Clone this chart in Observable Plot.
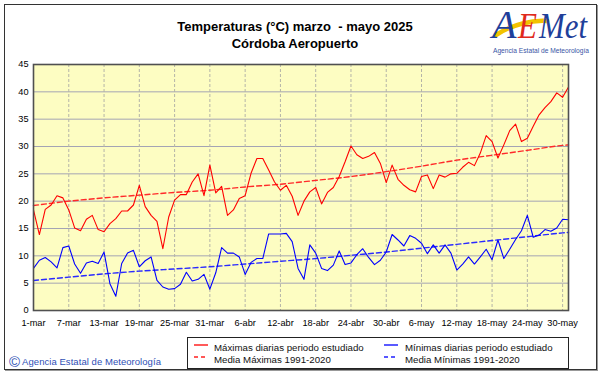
<!DOCTYPE html>
<html>
<head>
<meta charset="utf-8">
<script src="https://cdn.jsdelivr.net/npm/d3@7"></script>
<script src="https://cdn.jsdelivr.net/npm/@observablehq/plot@0.6"></script>
<style>
  html, body { margin: 0; padding: 0; background: #fff; }
  body { width: 601px; height: 374px; position: relative; overflow: hidden; font-family: "Liberation Sans", Arial, sans-serif; }
  #frame { position: absolute; left: 4px; top: 4px; width: 593px; height: 366px; box-sizing: border-box; border: 1px solid #333; box-shadow: 1px 1px 0 #999; }
  #chart { position: absolute; left: 0; top: 0; }
  .title { position: absolute; left: 95px; width: 400px; text-align: center; font-weight: bold; font-size: 13px; color: #000; white-space: pre; line-height: 17px; }
  #legend { position: absolute; left: 187px; top: 337px; width: 382px; height: 32px; box-sizing: border-box; border: 1px solid #222; background: #fff; font-size: 9.7px; color: #111; }
  .item { position: absolute; white-space: nowrap; line-height: 12px; }
  .sw { position: absolute; top: 5px; }
  #copy { position: absolute; left: 9px; top: 353px; font-size: 9.5px; color: #2f4fb5; white-space: nowrap; letter-spacing: 0.05px; }
  #copy span.c { font-size: 15px; vertical-align: -2px; margin-right: 2px; }
</style>
</head>
<body>
<div id="frame"></div>
<div id="chart"></div>
<div class="title" style="top:18px">Temperaturas (°C) marzo  - mayo 2025</div>
<div class="title" style="top:35px">Córdoba Aeropuerto</div>
<svg id="logo" width="112" height="58" style="position:absolute;left:487px;top:2px">
  <path d="M9,33 C26,22 46,18 60,19" stroke="#f2c200" stroke-width="4.5" fill="none" stroke-linecap="round"/>
  <text x="5" y="36" font-family="Liberation Serif" font-style="italic" font-size="40" fill="#1f3f9a">A</text>
  <text x="31" y="36" font-family="Liberation Serif" font-style="italic" font-size="36" fill="#e02a1c" textLength="19" lengthAdjust="spacingAndGlyphs">E</text>
  <text x="52" y="36" font-family="Liberation Serif" font-style="italic" font-size="36" fill="#1f3f9a" textLength="48" lengthAdjust="spacingAndGlyphs">Met</text>
  <text x="6" y="51" font-family="Liberation Sans, Arial" font-size="7" fill="#3a55a5" textLength="96" lengthAdjust="spacingAndGlyphs">Agencia Estatal de Meteorología</text>
</svg>
<div id="legend">
  <svg class="sw" style="left:6px;top:5px" width="14" height="4"><line x1="0" y1="2" x2="14" y2="2" stroke="#ff0000" stroke-width="1.3"/></svg>
  <div class="item" style="left:26px;top:4px">Máximas diarias periodo estudiado</div>
  <svg class="sw" style="left:196px;top:5px" width="14" height="4"><line x1="0" y1="2" x2="14" y2="2" stroke="#0000ff" stroke-width="1.3"/></svg>
  <div class="item" style="left:217px;top:4px">Mínimas diarias periodo estudiado</div>
  <svg class="sw" style="left:6px;top:17px" width="14" height="4"><line x1="0" y1="2" x2="14" y2="2" stroke="#ff2020" stroke-width="1.3" stroke-dasharray="4,3"/></svg>
  <div class="item" style="left:26px;top:16px">Media Máximas 1991-2020</div>
  <svg class="sw" style="left:196px;top:17px" width="14" height="4"><line x1="0" y1="2" x2="14" y2="2" stroke="#2020ff" stroke-width="1.3" stroke-dasharray="4,3"/></svg>
  <div class="item" style="left:217px;top:16px">Media Mínimas 1991-2020</div>
</div>
<div id="copy"><span class="c">©</span>Agencia Estatal de Meteorología</div>
<script>
// ---- Data ----
const startDate = new Date(Date.UTC(2025, 2, 1)); // 1 March 2025

// Daily maximum temperatures, 1 Mar – 31 May 2025 (92 days)
const maxTemps = [
  18.4, 13.9, 18.5, 19.3, 21.0, 20.6, 18.4, 15.1, 14.6, 16.7,
  17.4, 14.8, 14.4, 15.9, 16.8, 18.2, 18.2, 19.3, 22.9, 19.0,
  17.4, 16.3, 11.3, 17.1, 20.2, 21.2, 21.2, 23.5, 25.0, 21.0,
  26.6, 21.5, 22.7, 17.4, 18.4, 20.5, 21.0, 25.1, 27.8, 27.8,
  25.7, 23.5, 22.0, 22.9, 20.9, 17.4, 20.0, 21.7, 22.5, 19.5,
  21.6, 22.5, 24.5, 27.2, 30.1, 28.5, 27.8, 28.2, 28.9, 26.9,
  23.4, 26.6, 24.0, 22.9, 22.1, 21.7, 24.5, 24.8, 22.3, 24.8,
  24.4, 25.0, 25.1, 26.2, 27.1, 26.5, 28.8, 32.0, 30.9, 27.9,
  30.3, 32.9, 34.1, 30.9, 31.5, 33.7, 35.8, 37.1, 38.2, 39.8,
  39.0, 40.9
];

// Daily minimum temperatures
const minTemps = [
  7.7, 9.2, 9.7, 8.9, 7.8, 11.5, 11.8, 8.5, 6.8, 8.7,
  9.0, 8.6, 10.7, 4.9, 2.6, 8.6, 10.5, 11.0, 8.0, 9.1,
  9.8, 5.5, 4.3, 3.9, 4.0, 4.8, 7.0, 5.4, 5.7, 6.6,
  3.9, 6.9, 11.5, 10.5, 10.5, 9.8, 6.6, 8.8, 9.5, 9.5,
  14.0, 14.0, 14.0, 14.1, 12.6, 7.7, 5.7, 12.0, 10.5, 7.7,
  7.3, 8.3, 10.9, 8.4, 8.7, 10.2, 11.3, 9.7, 8.4, 9.2,
  10.7, 13.9, 12.9, 11.8, 13.7, 13.2, 12.3, 10.4, 12.0, 10.5,
  12.0, 10.5, 7.4, 8.5, 9.8, 8.5, 9.8, 11.2, 9.3, 12.9,
  9.5, 11.2, 13.0, 14.6, 17.4, 13.4, 13.8, 14.8, 14.5, 15.1,
  16.7, 16.6
];

// Normal (1991-2020) means, read at the gridline dates
const meanDays = [0, 6, 12, 18, 24, 30, 36, 42, 48, 54, 60, 66, 72, 78, 84, 90, 91];
const meanMax  = [19.2, 20.0, 20.6, 21.1, 21.6, 22.0, 22.6, 23.1, 23.8, 24.5, 25.4, 26.4, 27.5, 28.4, 29.3, 30.2, 30.3];
const meanMin  = [5.5, 6.1, 6.7, 7.2, 7.6, 8.0, 8.5, 9.0, 9.5, 10.1, 10.7, 11.4, 12.1, 12.8, 13.5, 14.2, 14.3];

// Axis ticks
const yTicks = [0, 5, 10, 15, 20, 25, 30, 35, 40, 45];
const xTickDays = [0, 6, 12, 18, 24, 30, 36, 42, 48, 54, 60, 66, 72, 78, 84, 90];
const xTickLabels = ["1-mar", "7-mar", "13-mar", "19-mar", "25-mar", "31-mar", "6-abr", "12-abr",
                     "18-abr", "24-abr", "30-abr", "6-may", "12-may", "18-may", "24-may", "30-may"];

// ---- Build tables ----
const day = i => d3.utcDay.offset(startDate, i);
const daily = maxTemps.map((v, i) => ({date: day(i), max: v, min: minTemps[i]}));
const means = meanDays.map((d, i) => ({date: day(d), max: meanMax[i], min: meanMin[i]}));
const xTickDates = xTickDays.map(day);
const labelFor = d => xTickLabels[xTickDays.indexOf(d3.utcDay.count(startDate, d))];

const chart = Plot.plot({
  width: 601,
  height: 340,
  marginTop: 64,
  marginBottom: 30,
  marginLeft: 33,
  marginRight: 33,
  style: {fontFamily: "'Liberation Sans', Arial, sans-serif", fontSize: "9.2px", color: "#000", background: "transparent", overflow: "visible"},
  x: {type: "utc", domain: [day(0), day(maxTemps.length - 1)]},
  y: {domain: [0, 45]},
  marks: [
    Plot.frame({fill: "#fdfdc2"}),
    Plot.ruleY(yTicks.filter(v => v > 0 && v < 45), {stroke: "#a4a4b4", strokeWidth: 1}),
    Plot.ruleX(xTickDates.filter((d, i) => i > 0), {stroke: "#b4b4a8", strokeWidth: 1, strokeDasharray: "3,2"}),
    Plot.line(means, {x: "date", y: "max", stroke: "#ff2a2a", strokeWidth: 1.4, strokeDasharray: "5,3", curve: "monotone-x"}),
    Plot.line(means, {x: "date", y: "min", stroke: "#2a2aff", strokeWidth: 1.4, strokeDasharray: "5,3", curve: "monotone-x"}),
    Plot.line(daily, {x: "date", y: "max", stroke: "#ff0000", strokeWidth: 1.1}),
    Plot.line(daily, {x: "date", y: "min", stroke: "#0000ff", strokeWidth: 1.1}),
    Plot.frame({stroke: "#505050", strokeWidth: 1.6}),
    Plot.axisY({ticks: yTicks, tickSize: 0, tickPadding: 5, label: null}),
    Plot.axisX({ticks: xTickDates, tickSize: 0, tickPadding: 9, tickFormat: labelFor, label: null})
  ]
});
document.getElementById("chart").appendChild(chart);
</script>
</body>
</html>
